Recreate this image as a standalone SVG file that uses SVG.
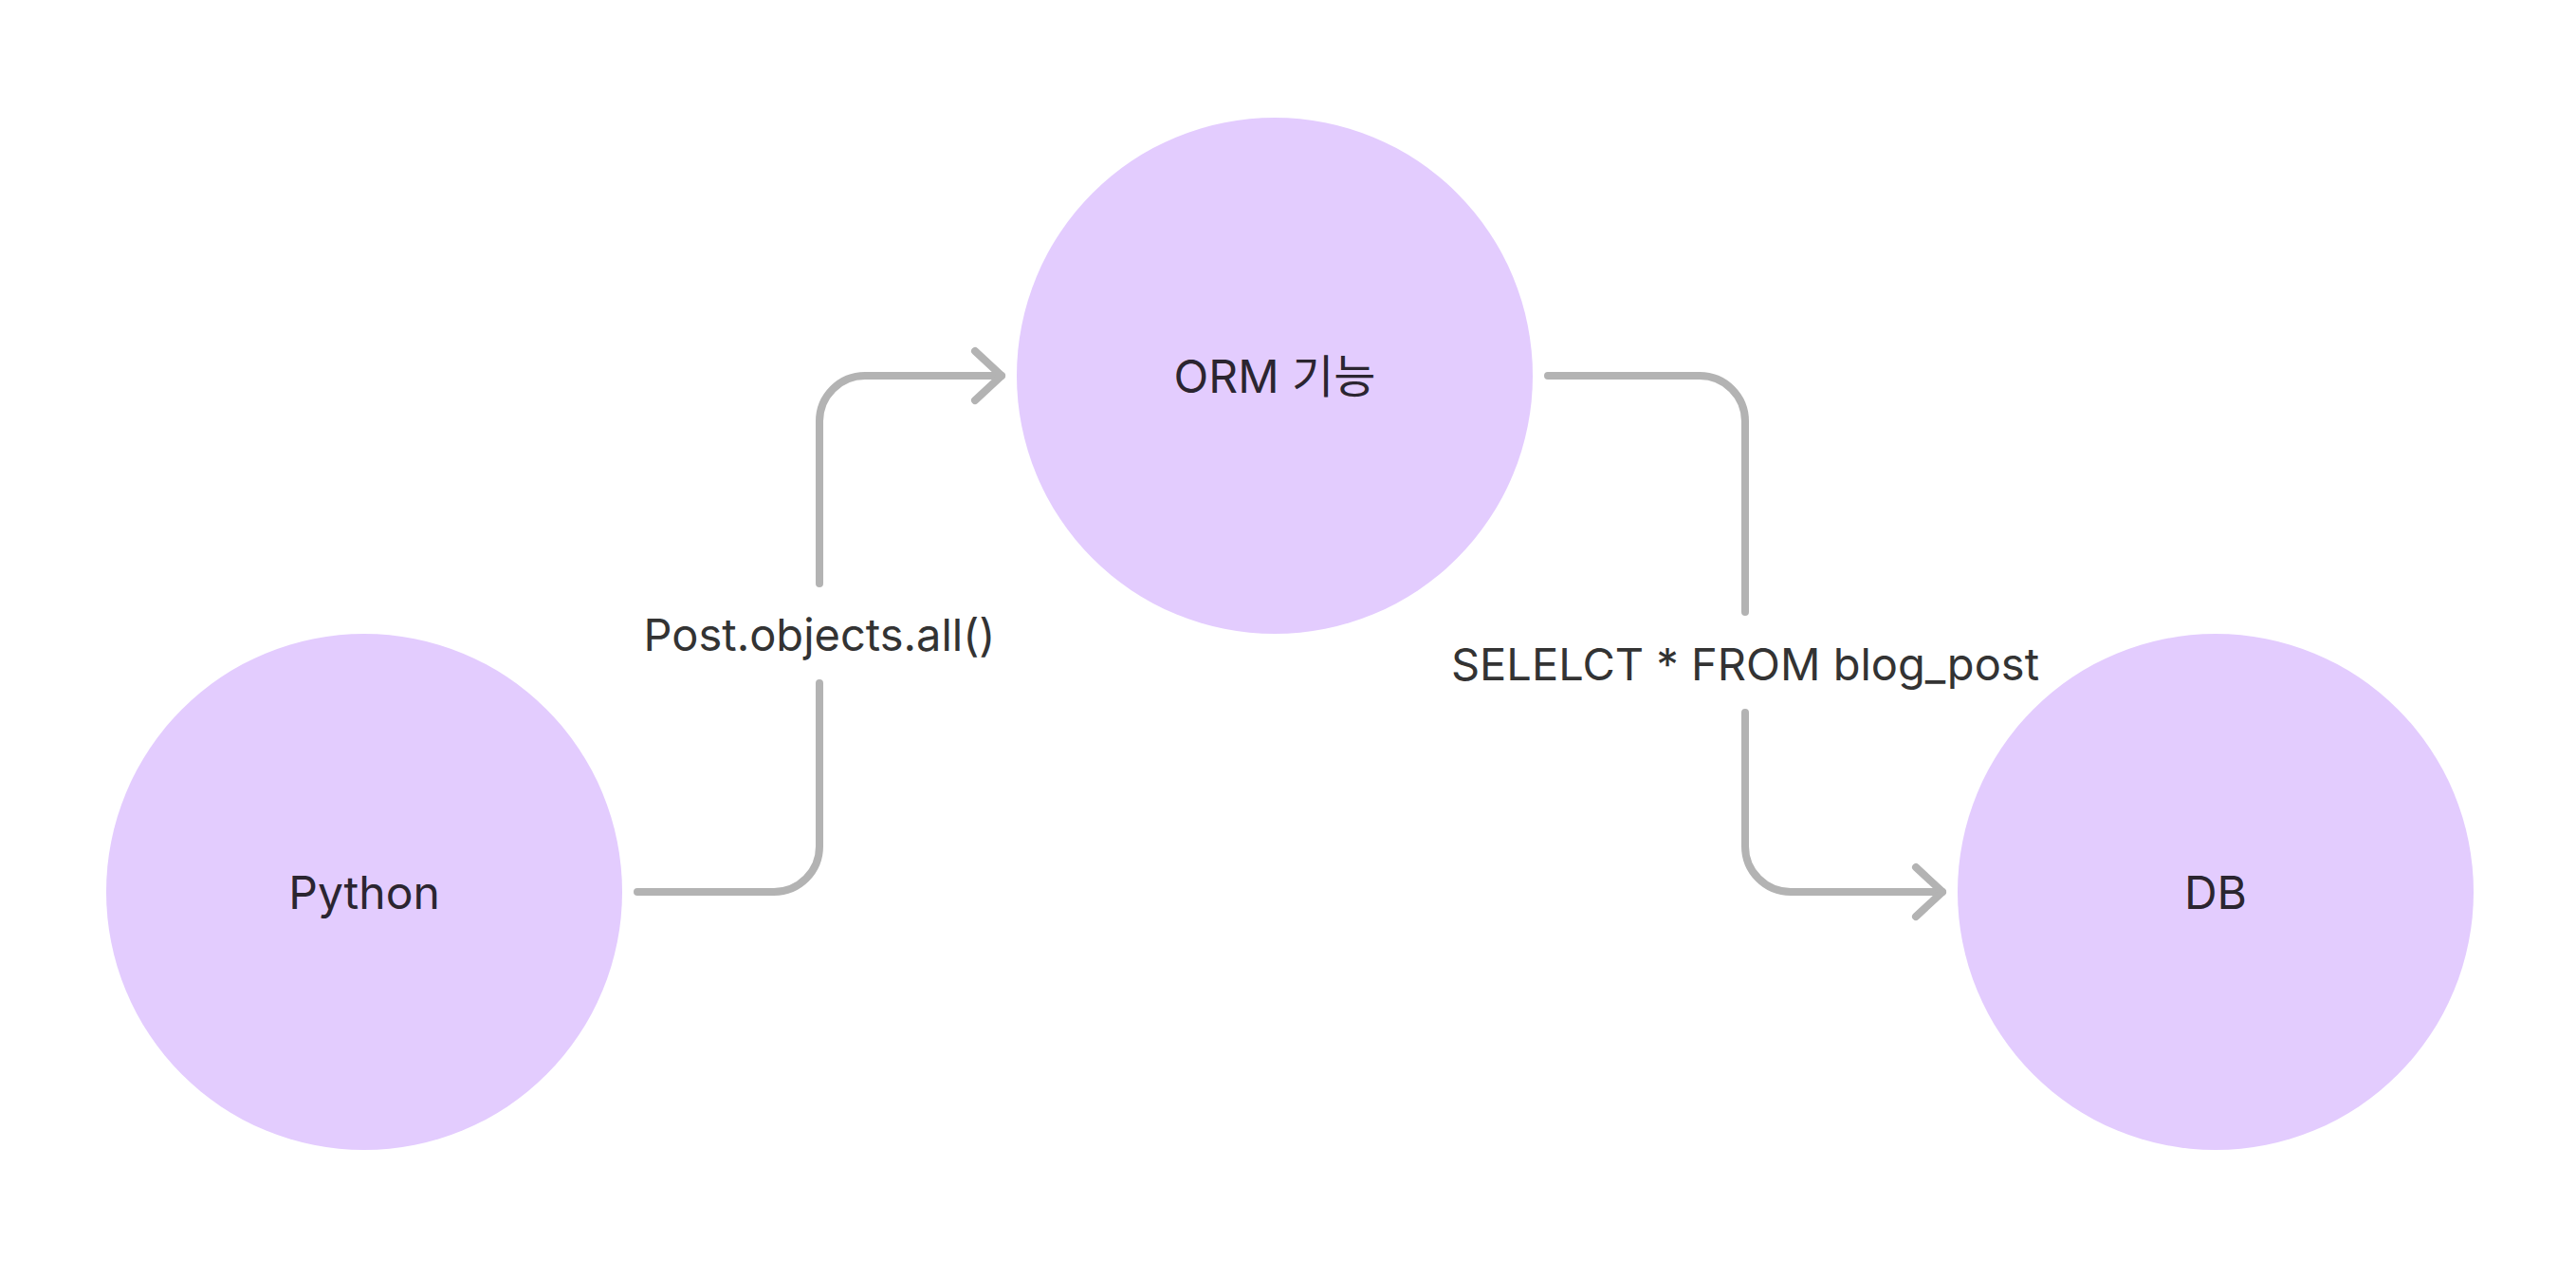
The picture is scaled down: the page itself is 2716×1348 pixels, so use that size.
<svg xmlns="http://www.w3.org/2000/svg" width="2716" height="1348" viewBox="0 0 2716 1348">
<style>
.node{fill:#e3ccfe}
.nlabel{font-family:Inter,"Noto Sans CJK KR",sans-serif;font-size:48px;fill:#2b2530;text-anchor:middle}
.elabel{font-family:Inter,"Noto Sans CJK KR",sans-serif;font-size:47px;fill:#333333;text-anchor:middle}
.edge{fill:none;stroke:#b3b3b3;stroke-width:8;stroke-linecap:round;stroke-linejoin:round}
</style>
<rect width="2716" height="1348" fill="#ffffff"/>
<g id="node-python">
<circle class="node" cx="384" cy="940" r="272"/>
<text class="nlabel" x="384" y="957.5">Python</text>
</g>
<g id="node-orm">
<circle class="node" cx="1344" cy="396" r="272"/>
<text class="nlabel" x="1344" y="413.5">ORM 기능</text>
</g>
<g id="node-db">
<circle class="node" cx="2336" cy="940" r="272"/>
<text class="nlabel" x="2336" y="957.5">DB</text>
</g>
<g id="connectors">
<path class="edge" d="M672 940 H816 A48 48 0 0 0 864 892 V720"/>
<path class="edge" d="M864 615 V444 A48 48 0 0 1 912 396 H1056"/>
<path class="edge" d="M1028 370 L1056 396 L1028 422"/>
<text class="elabel" x="864" y="686">Post.objects.all()</text>
<path class="edge" d="M1632 396 H1792 A48 48 0 0 1 1840 444 V645"/>
<path class="edge" d="M1840 751 V892 A48 48 0 0 0 1888 940 H2048"/>
<path class="edge" d="M2020 914 L2048 940 L2020 966"/>
<text class="elabel" x="1840" y="717">SELELCT * FROM blog_post</text>
</g>
</svg>
